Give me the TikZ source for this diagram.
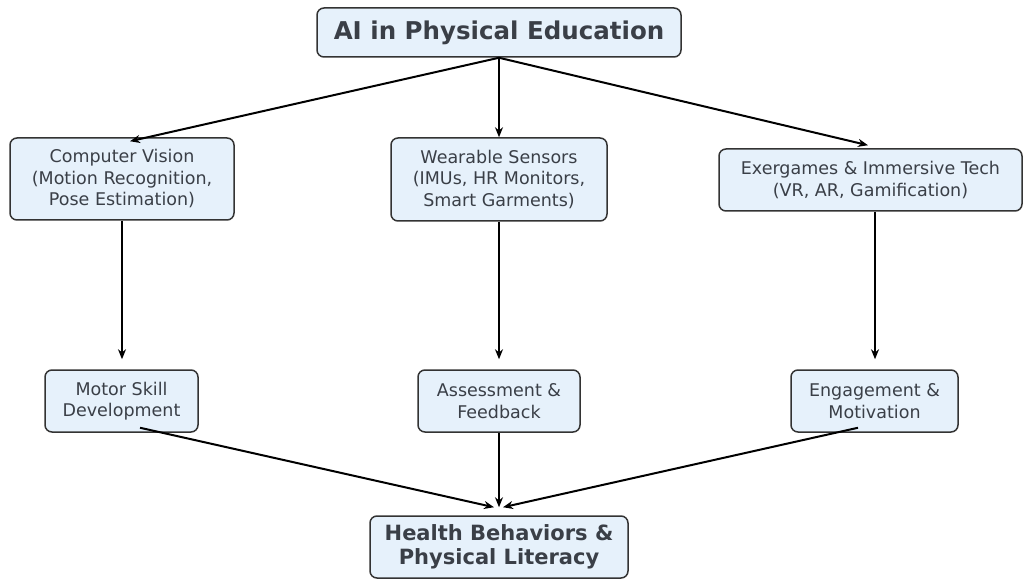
\documentclass[tikz,border=0pt]{standalone}
\usepackage{fontspec}
\setmainfont{DejaVu Sans}
\usetikzlibrary{arrows.meta,calc}
\definecolor{boxfill}{HTML}{E6F1FB}
\definecolor{boxline}{HTML}{333333}
\definecolor{txt}{HTML}{3A3F47}
\begin{document}
\begin{tikzpicture}[x=1pt,y=-1pt,
  box/.style={draw=boxline,fill=boxfill,rounded corners=7pt,line width=1.5pt,
    align=center,text=txt,inner sep=0pt,font=\fontsize{17.5}{21.5}\selectfont},
  bbox/.style={box,font=\bfseries\fontsize{21}{24.5}\selectfont},
  arr/.style={-{Stealth[length=10pt,width=8pt]},line width=2pt,black}]
\useasboundingbox (0,0) rectangle (1026,580);
\node[box,font=\bfseries\fontsize{24.5}{28}\selectfont,minimum width=364pt,minimum height=49pt] (top) at (499,32.5) {AI in Physical Education};
\node[box,minimum width=224pt,minimum height=82pt] (cv) at (122,179) {Computer Vision\\(Motion Recognition,\\Pose Estimation)};
\node[box,minimum width=216pt,minimum height=83pt] (ws) at (499,179.5) {Wearable Sensors\\(IMUs, HR Monitors,\\Smart Garments)};
\node[box,minimum width=303pt,minimum height=62pt] (et) at (870.5,180) {Exergames \& Immersive Tech\\(VR, AR, Gamification)};
\node[box,minimum width=153pt,minimum height=62pt] (ms) at (121.5,401) {Motor Skill\\Development};
\node[box,minimum width=162pt,minimum height=62pt] (af) at (499,401) {Assessment \&\\Feedback};
\node[box,minimum width=167pt,minimum height=62pt] (em) at (874.5,401) {Engagement \&\\Motivation};
\node[bbox,minimum width=258pt,minimum height=62pt] (hb) at (499,547) {Health Behaviors \&\\Physical Literacy};
\draw[arr] (top.south) -- ($(cv.north)+(8,4)$);
\draw[arr] (top.south) -- (ws.north);
\draw[arr] (top.south) -- ($(et.north)+(-2.5,-3)$);
\draw[arr,shorten >=10pt] (cv.south) -- (cv.south |- ms.north);
\draw[arr,shorten >=10pt] (ws.south) -- (af.north);
\draw[arr,shorten >=10pt] ($(et.south)+(4.5,0)$) -- ($(em.north)+(0.5,0)$);
\draw[arr] ($(ms.south)+(18.5,-5)$) -- ($(hb.north)+(-5,-8)$);
\draw[arr,shorten >=8pt] (af.south) -- (hb.north);
\draw[arr] ($(em.south)+(-16.5,-5)$) -- ($(hb.north)+(4,-8)$);
\end{tikzpicture}
\end{document}
